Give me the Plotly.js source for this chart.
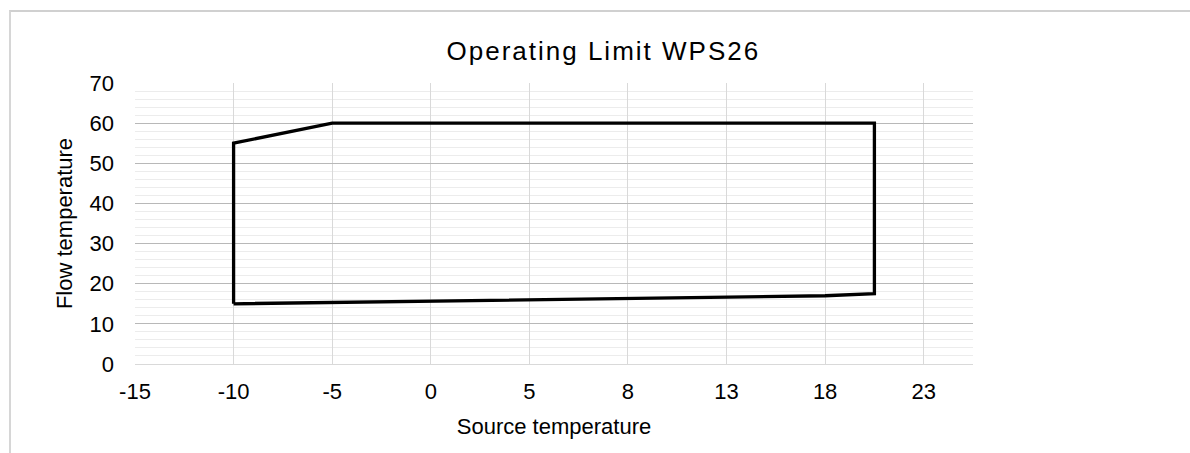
<!DOCTYPE html>
<html>
<head>
<meta charset="utf-8">
<script src="https://cdn.plot.ly/plotly-3.0.1.min.js"></script>
<style>
  html, body { margin: 0; padding: 0; background: #fff; }
  #wrap { position: relative; width: 1190px; height: 453px; }
  #chart { position: absolute; left: 0; top: 0; width: 1190px; height: 453px; }
  #frame { position: absolute; left: 9px; top: 10px; width: 1181px; height: 443px;
           border-left: 2px solid #d6d6d6; border-top: 2px solid #d0d0d0; box-sizing: border-box;
           pointer-events: none; }
  #chart .gtitle { letter-spacing: 2px; }
</style>
</head>
<body>
<div id="wrap">
  <div id="chart"></div>
  <div id="frame"></div>
</div>
<script>
// Limit polygon (x in axis position units, y in flow temperature)
const sourceTemp = [-10, -10, -5, 22.5, 22.5, 20, -10];
const flowTemp   = [15, 55, 60, 60, 17.5, 17, 15];

// X tick positions and their printed labels
const xTickVals  = [-15, -10, -5, 0, 5, 10, 15, 20, 25];
const xTickText  = ['-15', '-10', '-5', '0', '5', '8', '13', '18', '23'];

const FONT = 'Liberation Sans, Arial, sans-serif';

const trace = {
  x: sourceTemp,
  y: flowTemp,
  type: 'scatter',
  mode: 'lines',
  line: { color: '#000000', width: 3.3 },
  hoverinfo: 'x+y'
};

const layout = {
  width: 1190,
  height: 453,
  margin: { l: 135, r: 217, t: 83, b: 89 },
  paper_bgcolor: '#ffffff',
  plot_bgcolor: '#ffffff',
  showlegend: false,
  title: {
    text: 'Operating Limit WPS26',
    font: { family: FONT, size: 26, color: '#000000' },
    x: 0.507, xref: 'container', xanchor: 'center',
    y: 0.868, yref: 'container', yanchor: 'bottom'
  },
  xaxis: {
    range: [-15, 27.5],
    tickmode: 'array',
    tickvals: xTickVals,
    ticktext: xTickText,
    showgrid: true,
    gridcolor: '#d9d9d9',
    gridwidth: 1,
    zeroline: false,
    showline: true,
    linecolor: '#d9d9d9',
    linewidth: 1,
    ticks: '',
    ticklabelstandoff: 8,
    tickfont: { family: FONT, size: 22, color: '#000000' },
    title: { text: 'Source temperature', font: { family: FONT, size: 22, color: '#000000' }, standoff: 15 },
    fixedrange: true
  },
  yaxis: {
    range: [0, 70],
    dtick: 10,
    tick0: 0,
    showgrid: true,
    gridcolor: '#b8b8b8',
    gridwidth: 1,
    minor: { dtick: 2, showgrid: true, gridcolor: '#ececec', gridwidth: 1 },
    zeroline: false,
    showline: false,
    ticks: '',
    ticklabelstandoff: 20,
    tickfont: { family: FONT, size: 22, color: '#000000' },
    title: { text: 'Flow temperature', font: { family: FONT, size: 22, color: '#000000' }, standoff: 10 },
    fixedrange: true
  }
};

Plotly.newPlot('chart', [trace], layout, { displayModeBar: false, staticPlot: true });
</script>
</body>
</html>
